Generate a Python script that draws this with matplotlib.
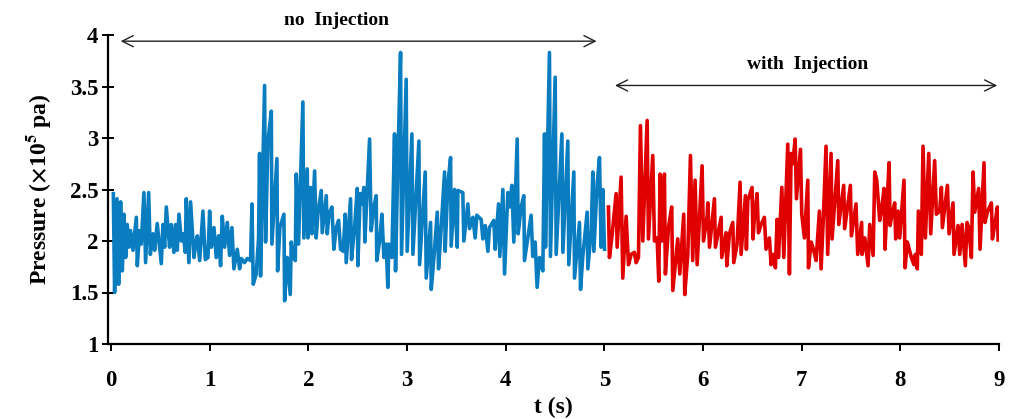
import numpy as np
import matplotlib
matplotlib.use("Agg")
from matplotlib import pyplot as plt

plt.rcParams['font.family'] = 'Liberation Serif'
plt.rcParams['font.weight'] = 'bold'
plt.rcParams['mathtext.fontset'] = 'stix'

# pressure, no injection (0 - 5 s)
t_no = [0.024, 0.037, 0.061, 0.078, 0.098, 0.115, 0.132, 0.149, 0.165, 0.182,
        0.199, 0.223, 0.257, 0.267, 0.290, 0.307, 0.334, 0.351, 0.382, 0.399,
        0.426, 0.443, 0.469, 0.510, 0.527, 0.544, 0.561, 0.594, 0.611, 0.638,
        0.655, 0.672, 0.689, 0.713, 0.733, 0.753, 0.763, 0.790, 0.807, 0.841,
        0.858, 0.875, 0.899, 0.932, 0.956, 0.983, 1.000, 1.017, 1.044, 1.067,
        1.091, 1.111, 1.128, 1.152, 1.179, 1.202, 1.226, 1.246, 1.280, 1.304,
        1.320, 1.354, 1.381, 1.415, 1.429, 1.442, 1.472, 1.496,
        1.506, 1.516, 1.557, 1.567, 1.591, 1.625, 1.631, 1.682, 1.689, 1.712,
        1.753, 1.760, 1.786, 1.817, 1.827, 1.847, 1.868, 1.878, 1.901, 1.945,
        1.955, 1.989, 1.996, 2.023, 2.036, 2.064, 2.080, 2.097, 2.131, 2.141,
        2.182, 2.192, 2.209, 2.239, 2.259, 2.283, 2.307, 2.327, 2.354, 2.374,
        2.384, 2.428, 2.438, 2.469, 2.496, 2.502, 2.526, 2.543, 2.563, 2.573,
        2.621, 2.637, 2.664, 2.688, 2.694, 2.722, 2.746, 2.766, 2.789, 2.806,
        2.816, 2.847, 2.874, 2.884, 2.908, 2.935, 2.945, 2.992, 3.002,
        3.050, 3.060, 3.121, 3.128, 3.185, 3.195, 3.239, 3.246, 3.273, 3.307,
        3.320, 3.347, 3.381, 3.387, 3.414, 3.442, 3.448, 3.482, 3.509, 3.516,
        3.566, 3.576, 3.617, 3.634, 3.668, 3.691, 3.708, 3.752, 3.769, 3.793,
        3.820, 3.836, 3.880, 3.894, 3.928, 3.941, 3.972, 3.989, 4.022, 4.039,
        4.063, 4.083, 4.117, 4.127, 4.157, 4.184, 4.191, 4.225, 4.258, 4.275,
        4.299, 4.319, 4.343, 4.377, 4.394, 4.404, 4.444, 4.454, 4.502, 4.512,
        4.570, 4.580, 4.630, 4.640, 4.691, 4.698, 4.748, 4.759, 4.782, 4.826,
        4.833, 4.867, 4.884, 4.894, 4.927, 4.951, 4.968, 4.985, 5.002]
p_no = [2.46, 1.50, 2.41, 1.58, 2.38, 1.71, 2.26, 1.84, 2.16, 1.94,
        2.10, 1.91, 2.23, 1.76, 2.10, 1.97, 2.47, 1.79, 2.47, 1.87,
        2.07, 1.91, 2.17, 1.78, 2.16, 1.94, 2.33, 1.94, 2.16, 1.89,
        2.16, 1.91, 2.26, 2.00, 2.07, 1.89, 2.41, 1.79, 2.38, 1.84,
        1.97, 2.05, 1.81, 2.29, 1.82, 1.84, 2.29, 1.94, 2.13, 1.84,
        2.05, 1.76, 2.24, 1.94, 2.18, 1.86, 2.13, 1.73, 1.92, 1.73,
        1.83, 1.79, 1.83, 1.81, 2.36, 1.58, 1.68, 2.03,
        2.85, 1.66, 3.51, 1.99, 2.97, 3.26, 1.97, 2.80, 1.71, 2.13,
        2.26, 1.42, 1.84, 1.48, 1.99, 1.84, 1.81, 2.65, 1.97, 3.35,
        2.03, 2.70, 2.03, 2.52, 2.07, 2.68, 2.03, 2.26, 2.49, 2.08,
        2.44, 2.07, 2.26, 2.33, 1.92, 2.13, 2.20, 1.92, 1.90, 2.26,
        1.79, 2.41, 1.82, 2.13, 2.51, 1.76, 2.46, 2.36, 2.52, 1.99,
        2.99, 2.10, 2.33, 2.44, 1.81, 2.00, 2.26, 1.84, 1.97, 1.55,
        1.97, 1.84, 3.04, 1.71, 2.78, 3.83, 1.87, 3.57, 1.90,
        3.04, 1.87, 2.97, 1.77, 2.67, 1.64, 2.18, 1.53, 1.84, 2.28,
        1.73, 2.13, 2.67, 1.90, 2.55, 2.81, 1.95, 2.50, 1.94, 2.49,
        2.47, 2.00, 2.36, 2.12, 2.23, 2.03, 2.25, 2.21, 2.02, 2.15,
        1.90, 2.13, 2.20, 1.92, 2.36, 1.85, 2.50, 1.68, 2.47, 2.33,
        2.54, 1.99, 2.99, 2.07, 2.33, 2.44, 1.81, 2.03, 2.25, 1.85,
        1.99, 1.55, 1.84, 1.71, 3.04, 1.94, 3.83, 1.85, 3.59, 1.87,
        3.04, 1.89, 2.97, 1.77, 2.67, 1.64, 2.18, 1.53, 1.85, 2.28,
        1.73, 2.10, 2.67, 1.90, 2.55, 2.81, 1.94, 2.50, 1.92]

# with injection (5 - 9 s)
t_inj = [5.042, 5.052, 5.079, 5.120, 5.130, 5.170, 5.187, 5.221, 5.245, 5.272,
         5.305, 5.322, 5.346, 5.366, 5.390, 5.434, 5.447, 5.491, 5.508, 5.535,
         5.552, 5.565, 5.585, 5.609, 5.619, 5.650, 5.683, 5.694, 5.744, 5.765,
         5.805, 5.815, 5.846, 5.873, 5.896, 5.920, 5.941, 5.991, 6.005, 6.042,
         6.049, 6.066, 6.116, 6.126, 6.184, 6.190, 6.234, 6.241, 6.268, 6.302,
         6.312, 6.345, 6.376, 6.386, 6.430, 6.440, 6.454, 6.497, 6.507, 6.521,
         6.548, 6.562, 6.589, 6.622, 6.639, 6.673, 6.690, 6.714, 6.734, 6.751,
         6.765, 6.799, 6.819, 6.859, 6.876, 6.893, 6.910, 6.934, 6.947, 6.988,
         7.001, 7.028, 7.062, 7.069, 7.096, 7.122, 7.146, 7.180, 7.197, 7.220,
         7.247, 7.264, 7.298, 7.308, 7.366, 7.376, 7.426, 7.436, 7.494, 7.504,
         7.551, 7.568, 7.608,
         7.612, 7.640, 7.673, 7.690, 7.724, 7.741, 7.761, 7.791, 7.808, 7.835,
         7.845, 7.866, 7.886, 7.896, 7.916, 7.943, 7.953, 7.977, 7.994, 8.037,
         8.048, 8.071, 8.112, 8.138, 8.152, 8.172, 8.183, 8.213, 8.230, 8.254,
         8.288, 8.308, 8.348, 8.365, 8.399, 8.416, 8.426, 8.477, 8.494, 8.534,
         8.544, 8.585, 8.602, 8.626, 8.659, 8.676, 8.693, 8.720, 8.737, 8.754,
         8.794, 8.808, 8.848, 8.858, 8.882, 8.923, 8.933, 8.956, 8.984, 8.991]
p_inj = [2.33, 1.84, 2.06, 2.46, 1.94, 2.62, 1.64, 2.24, 1.77, 1.87,
         1.89, 1.79, 1.84, 3.12, 2.00, 3.17, 2.02, 2.83, 2.00, 2.03,
         1.61, 2.65, 2.00, 2.65, 1.68, 2.13, 2.33, 1.52, 2.02, 1.68,
         2.26, 1.48, 1.87, 2.83, 1.81, 2.59, 1.77, 2.73, 2.00, 2.24,
         2.37, 1.94, 2.41, 1.94, 2.23, 1.84, 2.08, 1.76, 2.07, 2.18,
         1.79, 1.97, 2.57, 1.87, 2.44, 1.92, 2.39, 2.52, 2.02, 2.23,
         2.46, 2.08, 2.16, 2.23, 1.92, 2.03, 1.77, 1.87, 1.74, 2.21,
         1.84, 2.52, 1.84, 2.94, 1.68, 2.85, 2.75, 2.99, 2.41, 2.89,
         2.26, 2.03, 2.59, 1.74, 1.99, 1.91, 1.81, 2.29, 1.73, 2.23,
         2.92, 1.87, 2.85, 2.02, 2.78, 2.16, 2.54, 2.12, 2.54, 2.05,
         2.36, 1.87, 2.18,
         1.87, 2.03, 1.76, 2.16, 1.86, 2.67, 2.59, 2.20, 2.29, 2.51,
         1.92, 2.37, 2.76, 2.15, 2.26, 2.37, 2.02, 2.29, 2.03, 2.59,
         1.74, 1.99, 1.84, 1.77, 1.87, 1.73, 2.29, 1.87, 2.92, 2.03,
         2.85, 2.07, 2.78, 2.26, 2.29, 2.52, 2.13, 2.54, 2.07, 2.37,
         1.87, 2.15, 1.87, 2.16, 1.76, 2.18, 2.13, 1.84, 2.67, 2.28,
         2.51, 1.92, 2.76, 2.18, 2.28, 2.37, 2.02, 2.15, 2.33, 2.01]

fig = plt.figure(figsize=(10.14, 4.19), dpi=100)
ax = fig.add_axes([108/1014, 1 - 344/419, 891/1014, 309/419])

ax.plot(t_no, p_no, color='#0a7dc1', lw=2.6)
ax.plot(t_inj, p_inj, color='#e00000', lw=2.6)

ax.set_xlim(-0.03, 9)
ax.set_ylim(1, 4)
ax.set_xticks(range(0, 10))
ax.set_yticks([1, 1.5, 2, 2.5, 3, 3.5, 4])
ax.set_yticklabels(['1', '1.5', '2', '2.5', '3', '3.5', '4'])
ax.spines['top'].set_visible(False)
ax.spines['right'].set_visible(False)
ax.spines['left'].set_linewidth(1.6)
ax.spines['bottom'].set_linewidth(1.6)
ax.tick_params(axis='y', direction='inout', length=8, width=1.4, labelsize=16.5, pad=3)
ax.tick_params(axis='x', direction='out', length=5, width=1.4, labelsize=16.5, pad=14)

ax.set_xlabel('t (s)', fontsize=17, fontweight='bold', labelpad=4)
ax.set_ylabel(r'Pressure ($\times$10$^{\mathbf{5}}$ pa)', fontsize=17, fontweight='bold', labelpad=12)

# double arrows with labels
ax.annotate('', xy=(0.07, 3.94), xytext=(4.95, 3.94),
            arrowprops=dict(arrowstyle='<->', lw=1.0, color='#222222', mutation_scale=20),
            annotation_clip=False)
ax.text(2.29, 4.06, 'no  Injection', ha='center', va='bottom', fontsize=14, fontweight='bold')
ax.annotate('', xy=(5.08, 3.51), xytext=(9.01, 3.51),
            arrowprops=dict(arrowstyle='<->', lw=1.0, color='#222222', mutation_scale=20),
            annotation_clip=False)
ax.text(7.06, 3.63, 'with  Injection', ha='center', va='bottom', fontsize=14, fontweight='bold')

fig.savefig('out.png', dpi=100)
